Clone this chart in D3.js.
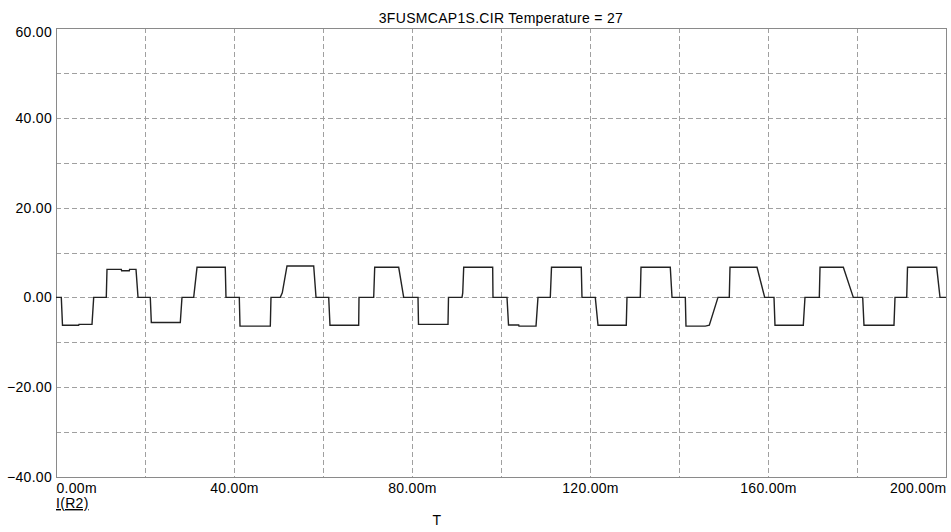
<!DOCTYPE html>
<html>
<head>
<meta charset="utf-8">
<script src="https://cdn.jsdelivr.net/npm/d3@7"></script>
<style>
  html, body { margin: 0; padding: 0; background: #fff; }
  svg { display: block; }
  text { font-family: "Liberation Sans", Arial, sans-serif; font-size: 14px; letter-spacing: 0.3px; fill: #000; }
</style>
</head>
<body>
<div id="chart"></div>
<script>
// I(R2) transient trace. Time in ms, value in the plot's units.
var timeMs = [
  0, 1.19, 1.46, 5.10, 5.17, 8.09, 8.47, 11.30, 11.46, 14.67, 14.74, 16.47, 16.54, 17.98, 18.43,
  21.19, 21.42, 27.93, 28.31, 30.94, 31.69, 38.04, 38.20,
  41.19, 41.35, 48.16, 48.31, 50.40, 50.85, 51.91, 57.91, 58.43,
  61.28, 61.57, 68.02, 68.09, 71.39, 71.62, 77.01, 78.13,
  81.35, 81.46, 88.09, 88.20, 91.24, 91.40, 91.62, 98.13, 98.20,
  101.35, 101.69, 103.98, 104.04, 107.87, 108.31, 111.08, 111.35, 118.04, 118.20,
  121.19, 121.80, 128.15, 128.31, 131.30, 131.46, 138.04, 138.43,
  141.42, 141.57, 145.91, 146.81, 148.76, 151.30, 151.46, 157.53, 159.26,
  161.35, 161.57, 167.93, 168.31, 171.53, 171.69, 176.93, 179.17,
  181.28, 181.57, 188.31, 188.54, 191.17, 191.35, 197.91, 198.65, 200
];
var current = [
  0, 0, -6.2, -6.2, -6.0, -6.0, 0, 0, 6.25, 6.25, 5.95, 5.95, 6.25, 6.25, 0,
  0, -5.6, -5.6, 0, 0, 6.7, 6.7, 0,
  0, -6.4, -6.4, 0, 0, 1.0, 7.0, 7.0, 0,
  0, -6.2, -6.2, 0, 0, 6.7, 6.7, 0,
  0, -6.0, -6.0, 0, 0, 1.0, 6.7, 6.7, 0,
  0, -6.15, -6.15, -6.4, -6.4, 0, 0, 6.7, 6.7, 0,
  0, -6.2, -6.2, 0, 0, 6.7, 6.7, 0,
  0, -6.4, -6.4, -6.2, 0, 0, 6.7, 6.7, 0,
  0, -6.2, -6.2, 0, 0, 6.7, 6.7, 0,
  0, -6.2, -6.2, 0, 0, 6.7, 6.7, 0, 0
];

var xGridTicks = d3.range(0, 201, 20);
var xLabelTicks = [0, 40, 80, 120, 160, 200];
var yGridTicks = d3.range(-40, 61, 10);
var yLabelTicks = [-40, -20, 0, 20, 40, 60];

var title = '3FUSMCAP1S.CIR Temperature = 27';
var traceName = 'I(R2)';
var xName = 'T';

var W = 951, H = 532;
// plot frame (note: "top" is a reserved window global, so prefix everything)
var plotL = 56, plotR = 946, plotT = 28, plotB = 477;

var x = d3.scaleLinear().domain([0, 200]).range([plotL, plotR]);
var y = d3.scaleLinear().domain([-40, 60]).range([plotB, plotT]);

var svg = d3.select('#chart').append('svg')
  .attr('width', W).attr('height', H);

// dashed grid
var grid = svg.append('g')
  .attr('stroke', '#a0a0a0')
  .attr('stroke-width', 1)
  .attr('stroke-dasharray', '5,3')
  .attr('shape-rendering', 'crispEdges');
grid.selectAll('line.v')
  .data(xGridTicks.slice(1, -1))
  .join('line')
  .attr('class', 'v')
  .attr('x1', function (d) { return Math.round(x(d)) + 0.5; })
  .attr('x2', function (d) { return Math.round(x(d)) + 0.5; })
  .attr('y1', plotT).attr('y2', plotB);
grid.selectAll('line.h')
  .data(yGridTicks.slice(1, -1))
  .join('line')
  .attr('class', 'h')
  .attr('y1', function (d) { return Math.round(y(d)) + 0.5; })
  .attr('y2', function (d) { return Math.round(y(d)) + 0.5; })
  .attr('x1', plotL).attr('x2', plotR);

// frame
svg.append('rect')
  .attr('x', plotL + 0.5).attr('y', plotT + 0.5)
  .attr('width', plotR - plotL).attr('height', plotB - plotT)
  .attr('fill', 'none')
  .attr('stroke', '#8a8a8a')
  .attr('stroke-width', 1)
  .attr('shape-rendering', 'crispEdges');

// trace
var line = d3.line()
  .x(function (d) { return x(d[0]); })
  .y(function (d) { return y(d[1]); });
svg.append('path')
  .datum(d3.zip(timeMs, current))
  .attr('d', line)
  .attr('fill', 'none')
  .attr('stroke', '#222')
  .attr('stroke-width', 1.4);

// y axis labels
var yAxis = d3.axisLeft(y)
  .tickValues(yLabelTicks)
  .tickSize(0)
  .tickPadding(4)
  .tickFormat(d3.format('.2f'));
var gy = svg.append('g').attr('transform', 'translate(' + plotL + ',0)').call(yAxis);
gy.select('.domain').remove();
gy.selectAll('text')
  .attr('font-size', null).attr('font-family', null)
  .attr('dy', function (d) { return d === 60 ? '0.6em' : '0.32em'; });

// x axis labels
var xAxis = d3.axisBottom(x)
  .tickValues(xLabelTicks)
  .tickSize(0)
  .tickPadding(6)
  .tickFormat(function (d) { return d3.format('.2f')(d) + 'm'; });
var gx = svg.append('g').attr('transform', 'translate(0,' + plotB + ')').call(xAxis);
gx.select('.domain').remove();
gx.selectAll('text')
  .attr('font-size', null).attr('font-family', null)
  .attr('text-anchor', function (d) { return d === 0 ? 'start' : d === 200 ? 'end' : 'middle'; });

// title and names
svg.append('text')
  .attr('x', (plotL + plotR) / 2).attr('y', 23)
  .attr('text-anchor', 'middle')
  .text(title);

svg.append('text')
  .attr('x', plotL).attr('y', 508)
  .attr('text-decoration', 'underline')
  .text(traceName);

svg.append('text')
  .attr('x', 437).attr('y', 525)
  .attr('text-anchor', 'middle')
  .text(xName);
</script>
</body>
</html>
